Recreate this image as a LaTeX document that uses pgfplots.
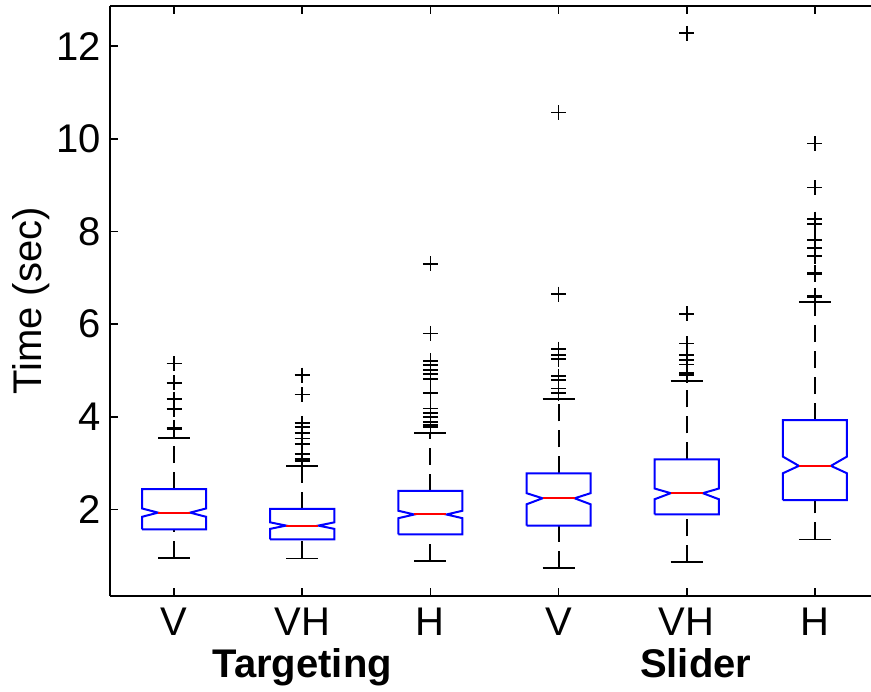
\documentclass[border=0pt]{standalone}
\usepackage{fontspec}
\setmainfont{Liberation Sans}
\usepackage{pgfplots}
\pgfplotsset{compat=1.18}
\definecolor{mblue}{RGB}{0,0,255}
\definecolor{mred}{RGB}{255,0,0}
\begin{document}
\begin{tikzpicture}
\begin{axis}[
  scale only axis, width=769pt, height=590pt,
  xmin=0.5, xmax=6.5, ymin=0.13, ymax=12.87,
  clip mode=individual,
  axis x line*=box, axis y line*=left,
  xtick={1,2,3,4,5,6}, xticklabels={V,VH,H,V,VH,H},
  ytick={2,4,6,8,10,12},
  tick align=inside, xtick pos=both, ytick pos=left, xticklabel pos=lower, yticklabel pos=left,
  major tick length=8pt,
  tick style={line width=1.6pt, black},
  axis line style={line width=1.8pt, black, -},
  tick label style={font=\fontsize{40}{48}\selectfont, inner sep=0pt},
  yticklabel style={anchor=east, xshift=-9pt},
  xticklabel style={anchor=base, yshift=-40pt},
  /pgf/number format/assume math mode=true,
  boxs/.style={mblue, line width=2pt, mark=none},
  meds/.style={mred, line width=2pt, mark=none},
  whisk/.style={black, line width=1.9pt, mark=none, dash pattern=on 17pt off 9pt},
  caps/.style={black, line width=1.9pt, mark=none},
  outl/.style={only marks, black, mark=+, mark size=7.5pt, mark options={line width=1.8pt}},
]
% ---------- Box 1: Targeting V ----------
\addplot[whisk] coordinates {(1,2.44) (1,3.54)};
\addplot[whisk] coordinates {(1,0.96) (1,1.57)};
\addplot[caps] coordinates {(0.875,3.54) (1.125,3.54)};
\addplot[caps] coordinates {(0.875,0.96) (1.125,0.96)};
\addplot[boxs] coordinates {(0.75,1.57) (0.75,1.84) (0.875,1.93) (0.75,2.02) (0.75,2.44) (1.25,2.44) (1.25,2.02) (1.125,1.93) (1.25,1.84) (1.25,1.57) (0.75,1.57)};
\addplot[meds] coordinates {(0.875,1.93) (1.125,1.93)};
\addplot[outl] coordinates {(1,5.15) (1,4.73) (1,4.38) (1,4.16) (1,3.77) (1,3.73)};
% ---------- Box 2: Targeting VH ----------
\addplot[whisk] coordinates {(2,2.01) (2,2.94)};
\addplot[whisk] coordinates {(2,0.94) (2,1.35)};
\addplot[caps] coordinates {(1.875,2.94) (2.125,2.94)};
\addplot[caps] coordinates {(1.875,0.94) (2.125,0.94)};
\addplot[boxs] coordinates {(1.75,1.35) (1.75,1.58) (1.875,1.65) (1.75,1.72) (1.75,2.01) (2.25,2.01) (2.25,1.72) (2.125,1.65) (2.25,1.58) (2.25,1.35) (1.75,1.35)};
\addplot[meds] coordinates {(1.875,1.65) (2.125,1.65)};
\addplot[outl] coordinates {(2,4.90) (2,4.48) (2,3.86) (2,3.78) (2,3.65) (2,3.53) (2,3.42) (2,3.19) (2,3.08) (2,3.05)};
% ---------- Box 3: Targeting H ----------
\addplot[whisk] coordinates {(3,2.40) (3,3.65)};
\addplot[whisk] coordinates {(3,0.89) (3,1.46)};
\addplot[caps] coordinates {(2.875,3.65) (3.125,3.65)};
\addplot[caps] coordinates {(2.875,0.89) (3.125,0.89)};
\addplot[boxs] coordinates {(2.75,1.46) (2.75,1.81) (2.875,1.89) (2.75,1.97) (2.75,2.40) (3.25,2.40) (3.25,1.97) (3.125,1.89) (3.25,1.81) (3.25,1.46) (2.75,1.46)};
\addplot[meds] coordinates {(2.875,1.89) (3.125,1.89)};
\addplot[outl] coordinates {(3,7.30) (3,5.80) (3,5.21) (3,5.12) (3,5.01) (3,4.92) (3,4.81) (3,4.51) (3,4.18) (3,4.09) (3,4.00) (3,3.89) (3,3.82) (3,3.78)};
% ---------- Box 4: Slider V ----------
\addplot[whisk] coordinates {(4,2.78) (4,4.38)};
\addplot[whisk] coordinates {(4,0.74) (4,1.65)};
\addplot[caps] coordinates {(3.875,4.38) (4.125,4.38)};
\addplot[caps] coordinates {(3.875,0.74) (4.125,0.74)};
\addplot[boxs] coordinates {(3.75,1.65) (3.75,2.11) (3.875,2.24) (3.75,2.35) (3.75,2.78) (4.25,2.78) (4.25,2.35) (4.125,2.24) (4.25,2.11) (4.25,1.65) (3.75,1.65)};
\addplot[meds] coordinates {(3.875,2.24) (4.125,2.24)};
\addplot[outl] coordinates {(4,10.57) (4,6.65) (4,5.46) (4,5.33) (4,5.24) (4,4.88) (4,4.79) (4,4.61) (4,4.51)};
% ---------- Box 5: Slider VH ----------
\addplot[whisk] coordinates {(5,3.08) (5,4.77)};
\addplot[whisk] coordinates {(5,0.86) (5,1.89)};
\addplot[caps] coordinates {(4.875,4.77) (5.125,4.77)};
\addplot[caps] coordinates {(4.875,0.86) (5.125,0.86)};
\addplot[boxs] coordinates {(4.75,1.89) (4.75,2.22) (4.875,2.35) (4.75,2.45) (4.75,3.08) (5.25,3.08) (5.25,2.45) (5.125,2.35) (5.25,2.22) (5.25,1.89) (4.75,1.89)};
\addplot[meds] coordinates {(4.875,2.35) (5.125,2.35)};
\addplot[outl] coordinates {(5,12.28) (5,6.22) (5,5.58) (5,5.33) (5,5.22) (5,5.13) (5,4.95) (5,4.90)};
% ---------- Box 6: Slider H ----------
\addplot[whisk] coordinates {(6,3.93) (6,6.47)};
\addplot[whisk] coordinates {(6,1.35) (6,2.20)};
\addplot[caps] coordinates {(5.875,6.47) (6.125,6.47)};
\addplot[caps] coordinates {(5.875,1.35) (6.125,1.35)};
\addplot[boxs] coordinates {(5.75,2.20) (5.75,2.78) (5.875,2.94) (5.75,3.14) (5.75,3.93) (6.25,3.93) (6.25,3.14) (6.125,2.94) (6.25,2.78) (6.25,2.20) (5.75,2.20)};
\addplot[meds] coordinates {(5.875,2.94) (6.125,2.94)};
\addplot[outl] coordinates {(6,9.90) (6,8.95) (6,8.27) (6,8.16) (6,7.82) (6,7.64) (6,7.47) (6,7.11) (6,7.08) (6,6.62) (6,6.58)};
% ---------- labels ----------
\node[rotate=90, anchor=base, inner sep=0pt, font=\fontsize{40}{48}\selectfont] at ([xshift=-68pt]rel axis cs:0,0.5) {Time (sec)};
\node[anchor=base, inner sep=0pt, font=\bfseries\fontsize{40}{48}\selectfont] at ([yshift=-82pt]axis cs:2,0.13) {Targeting};
\node[anchor=base, inner sep=0pt, font=\bfseries\fontsize{40}{48}\selectfont] at ([yshift=-82pt]axis cs:5.07,0.13) {Slider};
\end{axis}
\pgfresetboundingbox
\useasboundingbox (-110pt,-96pt) rectangle (761pt,596pt);
\end{tikzpicture}
\end{document}
